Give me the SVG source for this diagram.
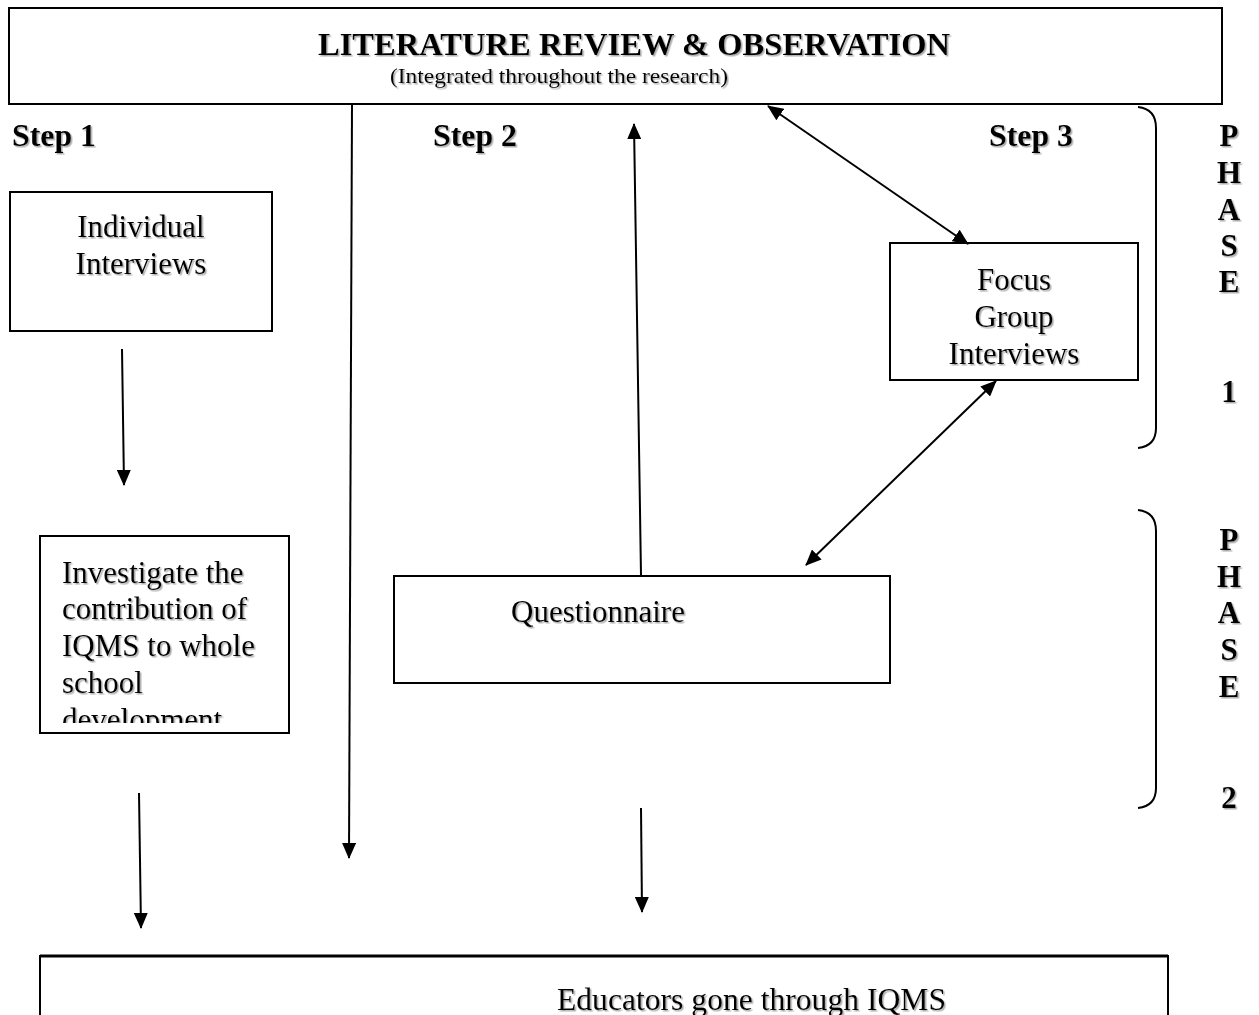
<svg xmlns="http://www.w3.org/2000/svg" width="1259" height="1015" viewBox="0 0 1259 1015">
  <style>
    .box { fill: #fff; stroke: #000; stroke-width: 2; }
    .txt { font-family: "Liberation Serif", "Times New Roman", serif; fill: #000; filter: url(#shade); }
    .body { font-size: 31px; }
    .bold { font-weight: bold; font-size: 31px; }
    .line { fill: none; stroke: #000; stroke-width: 2; }
    .brace { fill: none; stroke: #000; stroke-width: 2; }
  </style>
  <defs>
    <filter id="shade" x="-10%" y="-20%" width="120%" height="140%">
      <feDropShadow dx="1.5" dy="1.5" stdDeviation="0.7" flood-color="#888" flood-opacity="0.7"/>
    </filter>
    <marker id="head" markerUnits="userSpaceOnUse" markerWidth="16" markerHeight="14" refX="15" refY="7" orient="auto-start-reverse">
      <path d="M0,0 L16,7 L0,14 Z" fill="#000"/>
    </marker>
    <clipPath id="clipInv">
      <rect x="41" y="537" width="247" height="186"/>
    </clipPath>
  </defs>

  <rect width="1259" height="1015" fill="#fff"/>

  <!-- top banner -->
  <g id="literature">
    <rect class="box" x="9" y="8" width="1213" height="96"/>
    <text class="txt bold" x="318" y="55" font-size="32" textLength="632" lengthAdjust="spacingAndGlyphs">LITERATURE REVIEW &amp; OBSERVATION</text>
    <text class="txt" x="390" y="83" font-size="21" textLength="338" lengthAdjust="spacingAndGlyphs">(Integrated throughout the research)</text>
  </g>

  <!-- step headings -->
  <g id="steps">
    <text class="txt bold" x="12" y="146" font-size="33" textLength="84" lengthAdjust="spacingAndGlyphs">Step 1</text>
    <text class="txt bold" x="433" y="146" font-size="33" textLength="84" lengthAdjust="spacingAndGlyphs">Step 2</text>
    <text class="txt bold" x="989" y="146" font-size="33" textLength="84" lengthAdjust="spacingAndGlyphs">Step 3</text>
  </g>

  <g id="individual">
    <rect class="box" x="10" y="192" width="262" height="139"/>
    <text class="txt body" x="141" y="237" text-anchor="middle">Individual</text>
    <text class="txt body" x="141" y="274" text-anchor="middle">Interviews</text>
  </g>

  <g id="investigate">
    <rect class="box" x="40" y="536" width="249" height="197"/>
    <g clip-path="url(#clipInv)">
      <text class="txt body" x="62" y="583">Investigate the</text>
      <text class="txt body" x="62" y="619">contribution of</text>
      <text class="txt body" x="62" y="656">IQMS to whole</text>
      <text class="txt body" x="62" y="693">school</text>
      <text class="txt body" x="62" y="730">development</text>
    </g>
  </g>

  <g id="focus">
    <rect class="box" x="890" y="243" width="248" height="137"/>
    <text class="txt body" x="1014" y="290" text-anchor="middle">Focus</text>
    <text class="txt body" x="1014" y="327" text-anchor="middle">Group</text>
    <text class="txt body" x="1014" y="364" text-anchor="middle">Interviews</text>
  </g>

  <g id="questionnaire">
    <rect class="box" x="394" y="576" width="496" height="107"/>
    <text class="txt body" x="511" y="622">Questionnaire</text>
  </g>

  <g id="educators">
    <rect class="box" x="40" y="956" width="1128" height="80"/>
    <line x1="40" y1="956" x2="1168" y2="956" stroke="#000" stroke-width="3"/>
    <text class="txt" x="557" y="1010" font-size="31" textLength="389" lengthAdjust="spacingAndGlyphs">Educators gone through IQMS</text>
  </g>

  <!-- phase braces and labels -->
  <g id="phase1">
    <path class="brace" d="M1138,107 Q1156,109 1156,128 L1156,428 Q1156,446 1138,448"/>
    <text class="txt bold" text-anchor="middle" x="1229" y="146">P</text>
    <text class="txt bold" text-anchor="middle" x="1229" y="183">H</text>
    <text class="txt bold" text-anchor="middle" x="1229" y="220">A</text>
    <text class="txt bold" text-anchor="middle" x="1229" y="256">S</text>
    <text class="txt bold" text-anchor="middle" x="1229" y="292">E</text>
    <text class="txt bold" text-anchor="middle" x="1229" y="402">1</text>
  </g>
  <g id="phase2">
    <path class="brace" d="M1138,510 Q1156,512 1156,531 L1156,788 Q1156,806 1138,808"/>
    <text class="txt bold" text-anchor="middle" x="1229" y="550">P</text>
    <text class="txt bold" text-anchor="middle" x="1229" y="587">H</text>
    <text class="txt bold" text-anchor="middle" x="1229" y="623">A</text>
    <text class="txt bold" text-anchor="middle" x="1229" y="660">S</text>
    <text class="txt bold" text-anchor="middle" x="1229" y="697">E</text>
    <text class="txt bold" text-anchor="middle" x="1229" y="808">2</text>
  </g>

  <!-- connectors -->
  <g id="connectors">
    <line class="line" x1="122" y1="349" x2="124" y2="485" marker-end="url(#head)"/>
    <line class="line" x1="139" y1="793" x2="141" y2="928" marker-end="url(#head)"/>
    <line class="line" x1="352" y1="104" x2="349" y2="858" marker-end="url(#head)"/>
    <line class="line" x1="641" y1="575" x2="634" y2="124" marker-end="url(#head)"/>
    <line class="line" x1="641" y1="808" x2="642" y2="912" marker-end="url(#head)"/>
    <line class="line" x1="768" y1="106" x2="968" y2="244" marker-start="url(#head)" marker-end="url(#head)"/>
    <line class="line" x1="996" y1="381" x2="806" y2="565" marker-start="url(#head)" marker-end="url(#head)"/>
  </g>
</svg>
